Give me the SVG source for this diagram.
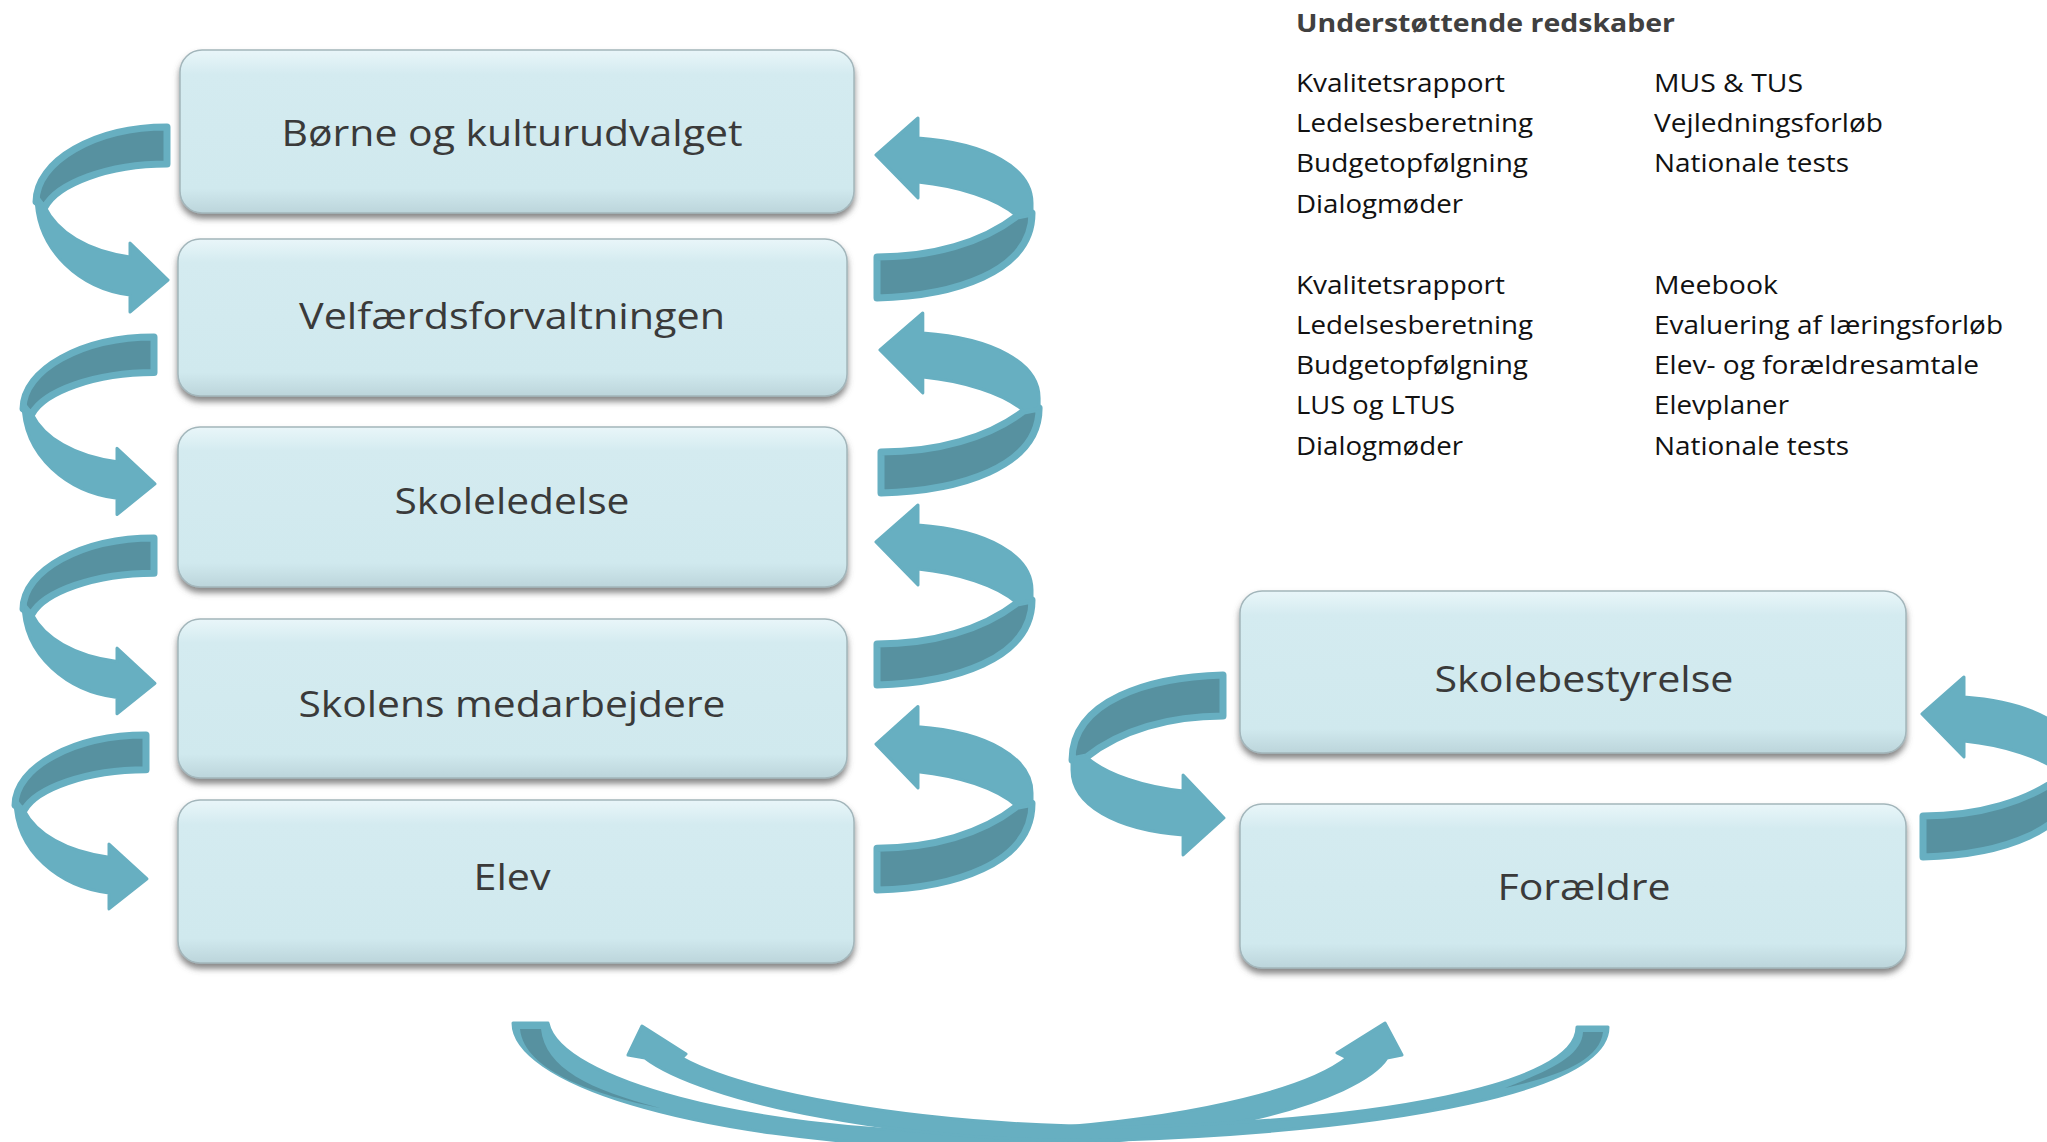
<svg xmlns="http://www.w3.org/2000/svg" xmlns:xlink="http://www.w3.org/1999/xlink" width="2047" height="1142" viewBox="0 0 2047 1142">
<defs>
<style>
.node rect.box{fill:url(#nodeFill);stroke:#A3B6BB;stroke-width:1.5;filter:url(#shadow)}
.node text{font-family:"Open Sans","Liberation Sans",sans-serif;font-size:36px;fill:#3A3A3A;text-anchor:middle}
.arw{fill:#67AFC1;stroke:#67AFC1;stroke-width:3;stroke-linejoin:round}
.arwb{fill:#5791A0;stroke:#67AFC1;stroke-width:7;stroke-linejoin:round}
.tl{font-family:"Open Sans","Liberation Sans",sans-serif;font-size:26px;fill:#111}
.hd{font-family:"Open Sans","Liberation Sans",sans-serif;font-size:25px;font-weight:bold;fill:#404040}
</style>
<linearGradient id="nodeFill" x1="0" y1="0" x2="0" y2="1">
<stop offset="0" stop-color="#E9F6F9"/>
<stop offset="0.15" stop-color="#D4EBF0"/>
<stop offset="0.85" stop-color="#D0E9EE"/>
<stop offset="1" stop-color="#BCD5DB"/>
</linearGradient>
<filter id="shadow" x="-5%" y="-10%" width="110%" height="125%">
<feDropShadow dx="0" dy="5" stdDeviation="3" flood-color="#555" flood-opacity="0.7"/>
</filter>
<g id="gL">
<path class="arwb" vector-effect="non-scaling-stroke" d="M0,0 C-72,0 -131,34 -131,75 L-122,80 C-110,57 -60,37 0,37 Z"/>
<path class="arw" vector-effect="non-scaling-stroke" d="M-131,68 C-131,125 -85,162 -37,168 L-37,185 L1,153 L-37,116 L-37,130 C-80,124 -110,105 -122,80 Z"/>
</g>
<g id="gR">
<path class="arwb" vector-effect="non-scaling-stroke" d="M0,0 C75,-2 155,-25 155,-85 L140,-82 C105,-55 55,-41 0,-41 Z"/>
<path class="arw" vector-effect="non-scaling-stroke" d="M155,-95 C155,-130 110,-155 41,-160 L41,-180 L-1,-143 L41,-100 L41,-116 C80,-112 120,-100 140,-82 L155,-85 Z"/>
</g>
</defs>
<rect width="2047" height="1142" fill="#FFFFFF"/>

<g id="connectors">
<use xlink:href="#gL" transform="translate(167,127)"/>
<use xlink:href="#gL" transform="translate(154,337) scale(1,0.96)"/>
<use xlink:href="#gL" transform="translate(154,538) scale(1,0.95)"/>
<use xlink:href="#gL" transform="translate(146,735) scale(1,0.94)"/>
<use xlink:href="#gR" transform="translate(877,298)"/>
<use xlink:href="#gR" transform="translate(881,493) scale(1.02,1)"/>
<use xlink:href="#gR" transform="translate(877,685)"/>
<use xlink:href="#gR" transform="translate(877,890) scale(1,1.02)"/>
<use xlink:href="#gR" transform="translate(1223,675) scale(-0.974,-1)"/>
<use xlink:href="#gR" transform="translate(1923,857)"/>
<!-- bottom arc A: tail left, head right -->
<path class="arw" d="M513,1023 C513,1080 680,1140 960,1148 C1200,1148 1360,1100 1387,1058 L1402,1055 L1385,1023 L1337,1053 L1347,1058 C1300,1095 1150,1128 960,1132 C750,1130 560,1080 548,1023 Z"/>
<path fill="#5791A0" d="M520,1029 L541,1029 C545,1068 590,1090 660,1108 C600,1096 524,1072 520,1029 Z"/>
<!-- bottom arc B: tail right, head left -->
<path class="arw" d="M1608,1027 C1608,1090 1400,1130 1120,1140 C900,1145 700,1100 645,1058 L628,1055 L642,1026 L686,1054 L682,1058 C740,1090 900,1125 1120,1127 C1380,1122 1577,1085 1577,1027 Z"/>
<path fill="#5791A0" d="M1583,1032 L1603,1032 C1600,1060 1560,1076 1505,1088 C1550,1070 1582,1056 1583,1032 Z"/>
</g>

<g id="node-borne" class="node">
<rect class="box" x="180" y="50" width="674" height="163" rx="22"/>
<text x="512" y="146" textLength="461" lengthAdjust="spacingAndGlyphs">Børne og kulturudvalget</text>
</g>
<g id="node-velfaerd" class="node">
<rect class="box" x="178" y="239" width="669" height="157" rx="22"/>
<text x="512" y="329" textLength="426" lengthAdjust="spacingAndGlyphs">Velfærdsforvaltningen</text>
</g>
<g id="node-skoleledelse" class="node">
<rect class="box" x="178" y="427" width="669" height="160" rx="22"/>
<text x="512" y="514" textLength="235" lengthAdjust="spacingAndGlyphs">Skoleledelse</text>
</g>
<g id="node-medarbejdere" class="node">
<rect class="box" x="178" y="619" width="669" height="159" rx="22"/>
<text x="512" y="717" textLength="427" lengthAdjust="spacingAndGlyphs">Skolens medarbejdere</text>
</g>
<g id="node-elev" class="node">
<rect class="box" x="178" y="800" width="676" height="163" rx="22"/>
<text x="512" y="890" textLength="77" lengthAdjust="spacingAndGlyphs">Elev</text>
</g>
<g id="node-skolebestyrelse" class="node">
<rect class="box" x="1240" y="591" width="666" height="162" rx="22"/>
<text x="1584" y="692" textLength="299" lengthAdjust="spacingAndGlyphs">Skolebestyrelse</text>
</g>
<g id="node-foraeldre" class="node">
<rect class="box" x="1240" y="804" width="666" height="164" rx="22"/>
<text x="1584" y="900" textLength="173" lengthAdjust="spacingAndGlyphs">Forældre</text>
</g>

<g id="tools">
<text class="hd" x="1296" y="32" textLength="379" lengthAdjust="spacingAndGlyphs">Understøttende redskaber</text>
<text class="tl" x="1296" y="92" textLength="209" lengthAdjust="spacingAndGlyphs">Kvalitetsrapport</text>
<text class="tl" x="1296" y="132" textLength="237" lengthAdjust="spacingAndGlyphs">Ledelsesberetning</text>
<text class="tl" x="1296" y="172" textLength="232" lengthAdjust="spacingAndGlyphs">Budgetopfølgning</text>
<text class="tl" x="1296" y="213" textLength="167" lengthAdjust="spacingAndGlyphs">Dialogmøder</text>
<text class="tl" x="1654" y="92" textLength="149" lengthAdjust="spacingAndGlyphs">MUS &amp; TUS</text>
<text class="tl" x="1654" y="132" textLength="229" lengthAdjust="spacingAndGlyphs">Vejledningsforløb</text>
<text class="tl" x="1654" y="172" textLength="195" lengthAdjust="spacingAndGlyphs">Nationale tests</text>
<text class="tl" x="1296" y="294" textLength="209" lengthAdjust="spacingAndGlyphs">Kvalitetsrapport</text>
<text class="tl" x="1296" y="334" textLength="237" lengthAdjust="spacingAndGlyphs">Ledelsesberetning</text>
<text class="tl" x="1296" y="374" textLength="232" lengthAdjust="spacingAndGlyphs">Budgetopfølgning</text>
<text class="tl" x="1296" y="414" textLength="159" lengthAdjust="spacingAndGlyphs">LUS og LTUS</text>
<text class="tl" x="1296" y="455" textLength="167" lengthAdjust="spacingAndGlyphs">Dialogmøder</text>
<text class="tl" x="1654" y="294" textLength="124" lengthAdjust="spacingAndGlyphs">Meebook</text>
<text class="tl" x="1654" y="334" textLength="349" lengthAdjust="spacingAndGlyphs">Evaluering af læringsforløb</text>
<text class="tl" x="1654" y="374" textLength="325" lengthAdjust="spacingAndGlyphs">Elev- og forældresamtale</text>
<text class="tl" x="1654" y="414" textLength="135" lengthAdjust="spacingAndGlyphs">Elevplaner</text>
<text class="tl" x="1654" y="455" textLength="195" lengthAdjust="spacingAndGlyphs">Nationale tests</text>
</g>
</svg>
